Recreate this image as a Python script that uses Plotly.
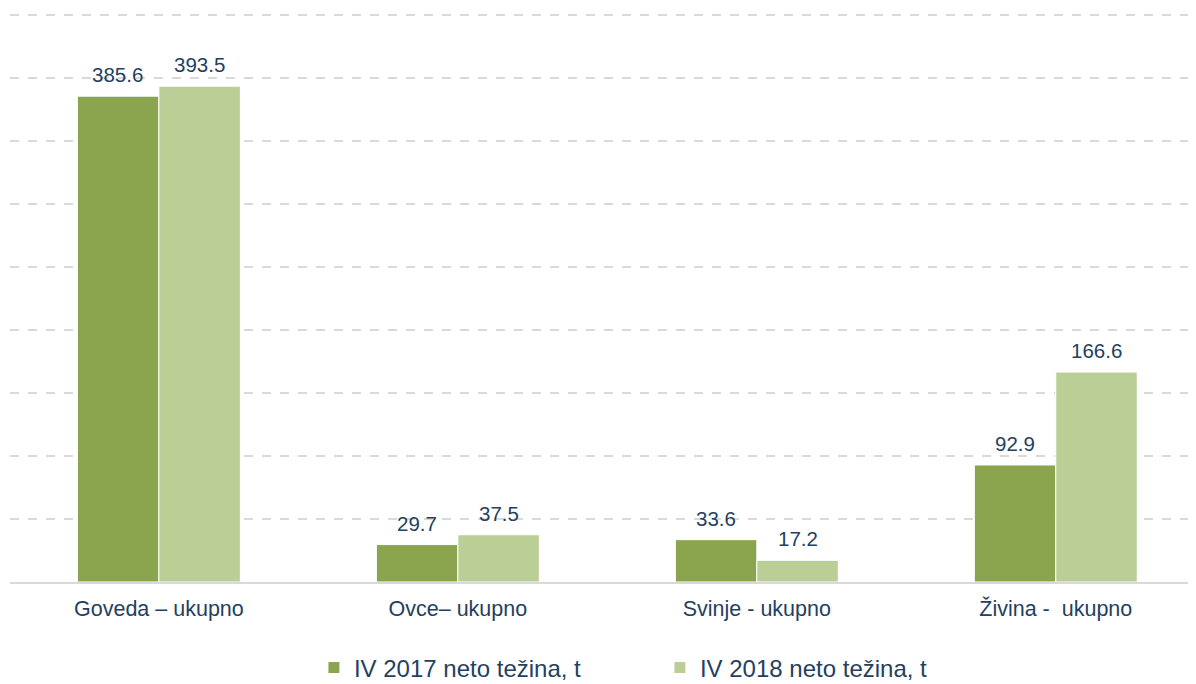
import plotly.graph_objects as go

categories = ["Goveda – ukupno", "Ovce– ukupno", "Svinje - ukupno", "Živina -  ukupno"]
series_2017_name = "IV 2017 neto težina, t"
series_2018_name = "IV 2018 neto težina, t"
values_2017 = [385.6, 29.7, 33.6, 92.9]
values_2018 = [393.5, 37.5, 17.2, 166.6]

c2017 = "#8AA54E"
c2018 = "#BACE96"
txt = "#243F60"
font_family = "Liberation Sans, Arial, sans-serif"

fig = go.Figure()
fig.add_trace(go.Bar(x=categories, y=values_2017, name=series_2017_name,
                     marker=dict(color=c2017, line=dict(color="#FFFFFF", width=1))))
fig.add_trace(go.Bar(x=categories, y=values_2018, name=series_2018_name,
                     marker=dict(color=c2018, line=dict(color="#FFFFFF", width=1))))

annotations = []
for i, cat in enumerate(categories):
    for v, sh in ((values_2017[i], -41), (values_2018[i], 41)):
        annotations.append(dict(x=cat, y=v, xref="x", yref="y", text=f"{v:.1f}",
                                showarrow=False, xshift=sh, yanchor="bottom", yshift=8,
                                font=dict(size=20.5, color=txt, family=font_family)))

fig.update_layout(
    width=1188, height=676,
    margin=dict(l=2, r=0, t=1, b=102, autoexpand=False),
    paper_bgcolor="white", plot_bgcolor="white",
    barmode="group", bargap=0.455, bargroupgap=0,
    font=dict(family=font_family, color=txt, size=20),
    xaxis=dict(range=[-0.498, 3.469], showgrid=False, showline=True, linecolor="#D9D9D9",
               linewidth=2, ticks="", tickfont=dict(size=21.5, color=txt),
               ticklabelstandoff=6, automargin=False),
    yaxis=dict(range=[0, 454.8], dtick=50, showticklabels=False, showgrid=True,
               gridcolor="#D9D9D9", gridwidth=2, griddash="dash", zeroline=False,
               showline=False, automargin=False),
    legend=dict(orientation="h", x=0.548, xanchor="center", y=-0.150, yanchor="middle",
                font=dict(size=24, color=txt), itemwidth=30, tracegroupgap=0,
                entrywidth=301, entrywidthmode="pixels"),
    annotations=annotations,
    showlegend=True,
)
fig.write_html("out.html")
